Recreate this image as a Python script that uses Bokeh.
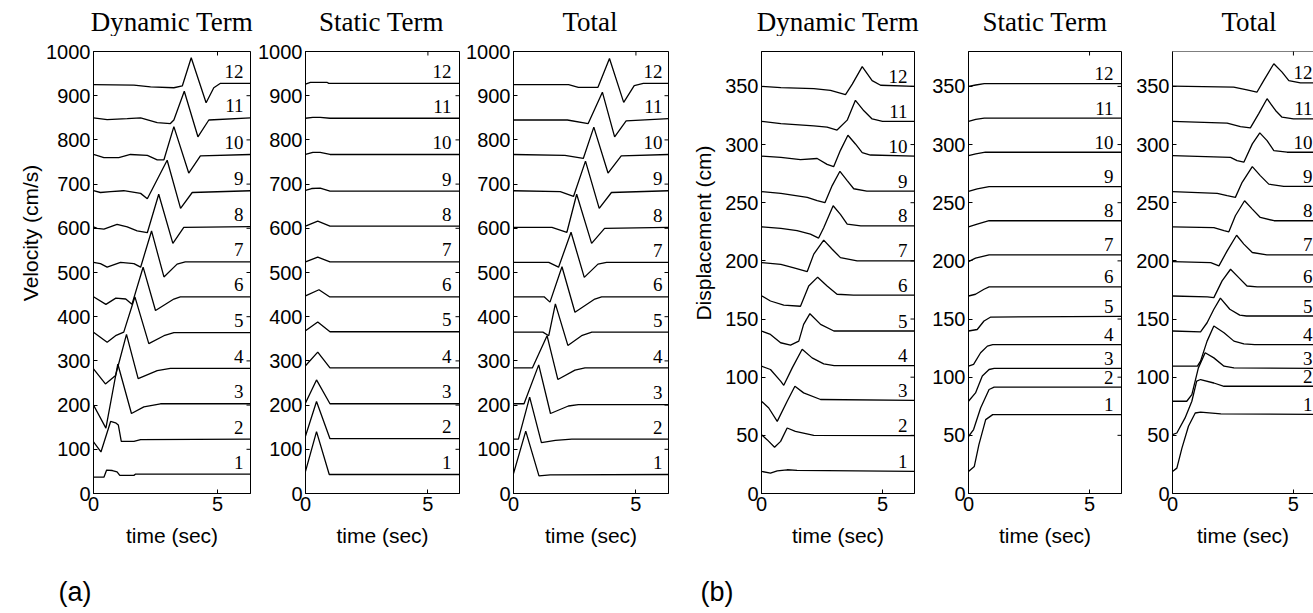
import math
from bokeh.plotting import figure
from bokeh.layouts import row, column
from bokeh.models import Range1d, LinearAxis, FixedTicker, Span
from bokeh.embed import file_html
from bokeh.resources import INLINE
from bokeh.core.properties import value

trace_labels = ["1", "2", "3", "4", "5", "6", "7", "8", "9", "10", "11", "12"]
x_ticks = [0, 5]
vel_ticks = [0, 100, 200, 300, 400, 500, 600, 700, 800, 900, 1000]
disp_ticks = [0, 50, 100, 150, 200, 250, 300, 350]
panel_titles = ["Dynamic Term", "Static Term", "Total", "Dynamic Term", "Static Term", "Total"]

# ---------------- (a) velocity, dynamic term ----------------
vel_dyn_t = [
    [0, 0.42, 0.53, 0.76, 0.95, 1.06, 1.63, 1.7, 6.33],
    [0, 0.3, 0.69, 0.89, 1.0, 1.12, 1.63, 1.9, 6.33],
    [0, 0.5, 0.98, 1.53, 2.03, 2.7, 6.33],
    [0, 0.48, 0.89, 1.33, 1.8, 2.57, 3.1, 6.33],
    [0, 0.55, 0.89, 1.22, 1.67, 2.23, 2.84, 3.24, 6.33],
    [0, 0.5, 0.9, 1.3, 1.55, 2.0, 2.5, 3.24, 3.5, 6.33],
    [0, 0.28, 0.55, 1.09, 1.63, 1.9, 2.34, 2.84, 3.37, 3.7, 6.33],
    [0, 0.15, 0.42, 0.95, 1.36, 1.76, 2.17, 2.63, 3.2, 3.64, 6.33],
    [0, 0.28, 0.69, 1.22, 1.9, 2.17, 2.97, 3.51, 3.98, 6.33],
    [0, 0.42, 1.02, 1.49, 2.17, 2.57, 2.84, 3.24, 3.84, 4.31, 6.33],
    [0, 0.55, 1.36, 1.9, 2.57, 3.1, 3.24, 3.66, 4.21, 4.65, 6.33],
    [0, 1.63, 2.3, 3.24, 3.58, 3.94, 4.54, 4.85, 5.12, 6.33],
]
vel_dyn_v = [
    [37, 37, 53, 52, 49, 41, 41, 44, 44],
    [117, 94, 163, 160, 155, 118, 118, 122, 123],
    [200, 148, 293, 181, 196, 203, 203],
    [282, 248, 267, 360, 260, 278, 283, 283],
    [365, 342, 357, 365, 445, 339, 357, 364, 364],
    [445, 428, 442, 440, 428, 512, 414, 440, 445, 445],
    [523, 520, 512, 523, 520, 512, 594, 490, 519, 524, 524],
    [603, 600, 598, 609, 603, 594, 590, 677, 566, 602, 604],
    [685, 681, 683, 685, 679, 667, 754, 645, 681, 685],
    [767, 760, 760, 767, 765, 755, 755, 830, 725, 764, 767],
    [850, 846, 848, 850, 839, 837, 845, 910, 807, 845, 850],
    [925, 924, 920, 918, 922, 986, 884, 918, 928, 928],
]

# ---------------- (a) velocity, static term ----------------
vel_sta_t = [
    [0, 0.45, 0.97, 6.33],
    [0, 0.45, 1.0, 6.33],
    [0, 0.45, 1.0, 6.33],
    [0, 0.5, 1.0, 6.33],
    [0, 0.5, 1.0, 6.33],
    [0, 0.55, 0.98, 6.33],
    [0, 0.5, 1.0, 6.33],
    [0, 0.5, 1.0, 6.33],
    [0, 0.25, 0.6, 1.0, 6.33],
    [0, 0.3, 0.6, 1.0, 6.33],
    [0, 0.3, 0.6, 1.0, 6.33],
    [0, 0.2, 0.89, 0.95, 6.33],
]
vel_sta_v = [
    [50, 140, 43, 43],
    [130, 208, 124, 124],
    [205, 257, 203, 203],
    [289, 320, 284, 284],
    [368, 388, 366, 366],
    [447, 461, 445, 445],
    [524, 535, 524, 524],
    [605, 616, 605, 605],
    [686, 690, 691, 684, 684],
    [767, 772, 772, 767, 767],
    [849, 851, 851, 849, 849],
    [926, 930, 930, 928, 928],
]

# ---------------- (a) velocity, total ----------------
vel_tot_t = [
    [0, 0.5, 1.04, 1.5, 6.33],
    [0, 0.2, 0.66, 1.14, 1.71, 2.38, 6.33],
    [0, 0.43, 1.03, 1.51, 2.24, 2.65, 6.33],
    [0, 0.77, 1.37, 1.81, 2.51, 2.92, 6.33],
    [0, 1.2, 1.44, 1.71, 2.22, 2.78, 3.2, 6.33],
    [0, 1.25, 1.49, 1.98, 2.51, 3.32, 3.6, 6.33],
    [0, 1.44, 1.84, 2.35, 2.89, 3.45, 3.8, 6.33],
    [0, 1.57, 2.18, 2.58, 3.19, 3.72, 6.33],
    [0, 1.91, 2.45, 2.94, 3.5, 4.0, 6.33],
    [0, 2.1, 2.85, 3.28, 3.86, 4.4, 6.33],
    [0, 2.2, 3.05, 3.63, 4.13, 4.6, 6.33],
    [0, 2.25, 2.65, 3.45, 3.92, 4.5, 4.93, 5.3, 6.33],
]
vel_tot_v = [
    [45, 141, 40, 42, 43],
    [123, 123, 218, 115, 120, 123, 123],
    [203, 203, 291, 181, 198, 201, 201],
    [284, 284, 357, 258, 279, 284, 284],
    [365, 365, 357, 429, 335, 357, 365, 365],
    [445, 445, 433, 513, 410, 440, 445, 445],
    [523, 523, 512, 591, 489, 519, 523, 523],
    [602, 602, 591, 677, 566, 600, 602],
    [685, 683, 672, 752, 645, 681, 685],
    [767, 765, 758, 829, 725, 764, 767],
    [845, 845, 837, 908, 807, 843, 848],
    [925, 925, 919, 919, 984, 885, 923, 928, 928],
]

# ---------------- (b) displacement, dynamic term ----------------
disp_dyn_t = [
    [0, 0.37, 0.65, 1.06, 1.47, 6.32],
    [0, 0.23, 0.54, 0.79, 1.06, 1.4, 2.16, 6.32],
    [0, 0.3, 0.65, 1.06, 1.38, 1.74, 2.44, 6.32],
    [0, 0.37, 0.79, 0.92, 1.27, 1.68, 2.09, 2.57, 3.0, 6.32],
    [0, 0.37, 0.79, 1.2, 1.54, 1.74, 2.0, 2.44, 2.99, 6.32],
    [0, 0.37, 0.92, 1.61, 1.95, 2.32, 2.71, 3.12, 3.8, 6.32],
    [0, 0.8, 1.34, 1.89, 2.16, 2.57, 2.92, 3.26, 3.95, 6.32],
    [0, 0.8, 1.47, 2.02, 2.36, 2.57, 2.96, 3.26, 3.54, 4.1, 6.32],
    [0, 0.8, 1.89, 2.3, 2.62, 2.92, 3.24, 3.54, 3.81, 4.35, 6.32],
    [0, 0.8, 1.61, 2.3, 2.71, 2.98, 3.26, 3.57, 3.88, 4.16, 4.5, 6.32],
    [0, 0.8, 2.16, 2.71, 3.12, 3.54, 3.88, 4.23, 4.57, 5.0, 6.32],
    [0, 0.8, 2.16, 2.85, 3.47, 3.75, 4.16, 4.57, 4.92, 6.32],
]
disp_dyn_v = [
    [19, 17.5, 19.5, 20.4, 19.8, 19],
    [50.6, 46.3, 39.7, 44.8, 56.3, 53.4, 50, 49.7],
    [79.3, 73.5, 62, 79.3, 92.2, 86.5, 80.8, 80],
    [109.5, 106.6, 96.6, 93, 108, 124, 116.6, 111.5, 110, 110],
    [139.7, 136.8, 129.6, 127.6, 131, 145.4, 154.6, 145.4, 139.7, 139.7],
    [170, 165.5, 162, 161, 178.4, 186, 178.4, 171.3, 170.5, 170.5],
    [198.5, 197, 194, 190.8, 205.8, 217.8, 210, 202.8, 200, 200],
    [229.3, 228, 226, 223, 219.6, 228.4, 247.4, 240, 231.6, 230, 230],
    [259.5, 258, 254.5, 251.7, 250, 264.7, 277, 269, 262, 260, 260],
    [290, 289, 287, 288, 283, 281, 295, 308, 300.5, 293, 291, 290],
    [320, 318, 316, 315, 312.5, 321, 338, 329, 322, 320, 320],
    [350, 349, 348, 346.5, 343, 352, 367, 355, 351, 350],
]

# ---------------- (b) displacement, static term ----------------
disp_sta_t = [
    [0, 0.24, 0.43, 0.71, 1.0, 6.32],
    [0, 0.21, 0.5, 0.85, 1.06, 6.32],
    [0, 0.29, 0.57, 0.85, 1.06, 6.32],
    [0, 0.21, 0.5, 0.78, 1.0, 6.32],
    [0, 0.36, 0.64, 0.92, 6.32],
    [0, 0.29, 0.64, 0.85, 6.32],
    [0, 0.29, 0.85, 6.32],
    [0, 0.36, 0.85, 6.32],
    [0, 0.36, 0.85, 6.32],
    [0, 0.3, 0.7, 6.32],
    [0, 0.3, 0.65, 6.32],
    [0, 0.3, 0.65, 6.32],
]
disp_sta_v = [
    [19, 23.3, 42, 63.5, 67.8, 67.8],
    [49, 55, 73.5, 89.4, 91.4, 91.4],
    [79.3, 86.5, 101, 106.6, 107.5, 107.5],
    [109.5, 111, 121, 126.7, 128, 128],
    [139.7, 141, 148.3, 151.7, 152.3],
    [169.8, 171.3, 175.6, 177.6, 177.6],
    [199.4, 202.3, 205.2, 205.2],
    [229.3, 231.6, 234.5, 234.5],
    [259.7, 261.8, 263.8, 263.8],
    [290.5, 292, 293.4, 293.4],
    [320, 321.7, 322.7, 322.7],
    [350, 351.2, 352.3, 352.3],
]

# ---------------- (b) displacement, total ----------------
disp_tot_t = [
    [0, 0.18, 0.39, 0.66, 0.94, 1.16, 2.0, 6.32],
    [0, 0.18, 0.52, 0.8, 1.0, 1.16, 1.71, 2.13, 6.32],
    [0, 0.59, 0.8, 1.07, 1.35, 1.71, 2.13, 2.54, 6.32],
    [0, 1.03, 1.16, 1.43, 1.71, 2.13, 2.54, 2.95, 3.4, 6.32],
    [0, 1.16, 1.43, 1.71, 1.98, 2.37, 2.78, 3.06, 6.32],
    [0, 1.44, 1.71, 2.05, 2.4, 2.74, 3.08, 3.5, 6.32],
    [0, 1.58, 1.92, 2.26, 2.65, 2.95, 3.3, 3.9, 6.32],
    [0, 1.71, 2.13, 2.33, 2.6, 2.98, 3.3, 3.63, 4.2, 6.32],
    [0, 1.85, 2.26, 2.6, 2.88, 3.3, 3.63, 3.98, 4.6, 6.32],
    [0, 2.4, 2.67, 2.95, 3.3, 3.61, 3.91, 4.19, 4.74, 6.32],
    [0, 2.26, 2.81, 3.22, 3.56, 3.91, 4.26, 4.53, 5.0, 6.32],
    [0, 2.53, 3.08, 3.49, 3.77, 4.19, 4.53, 4.81, 5.29, 6.32],
]
disp_tot_v = [
    [19, 21.8, 39, 57.8, 69.2, 70, 68.5, 68],
    [50.6, 52, 65, 79.3, 96.6, 98, 95, 92.2, 92.2],
    [79.3, 79.3, 85, 108, 121, 116.6, 109.5, 108, 107.5],
    [109.5, 109.5, 113.8, 131, 144, 138.2, 131, 128.7, 128, 128],
    [139.7, 139, 146.8, 158.4, 168, 158.4, 153.4, 152.6, 152.6],
    [169.8, 169, 168.4, 182.8, 192.8, 185.6, 178.4, 177.6, 177.6],
    [199.4, 198.5, 195.7, 208.6, 222, 214.4, 207.2, 205.2, 205.2],
    [229.3, 228.5, 226, 225, 238.8, 251.7, 244.5, 237.3, 234.5, 234.5],
    [259.5, 258, 256, 254.6, 267.5, 281, 273.3, 266, 264, 264],
    [290.5, 289, 286.2, 284.8, 300.6, 310, 303.4, 294.8, 293.4, 293.4],
    [320, 318.4, 315.5, 314.4, 326.4, 339.4, 329.3, 323.5, 322, 322],
    [350.3, 349.4, 347, 345, 355, 369.5, 362.3, 355, 353, 353],
]

SANS = "Liberation Sans"
SERIF = "Liberation Serif"
W = 1313
HEAD_H = 36
FOOT_H = 53
MAIN_H = 613 - HEAD_H - FOOT_H   # 524
TOP_B = 15                       # frame top at page y = 51
SIDE_W = 43
STRIP_BOTTOM = HEAD_H + MAIN_H   # page y of the bottom of the main row


def blank(width, height):
    f = figure(width=width, height=height, x_range=Range1d(0, width),
               y_range=Range1d(0, height), output_backend="svg",
               toolbar_location=None, x_axis_location=None, y_axis_location=None,
               min_border_left=0, min_border_right=0, min_border_top=0,
               min_border_bottom=0)
    f.outline_line_color = None
    f.grid.visible = False
    f.background_fill_color = "white"
    f.border_fill_color = "white"
    return f


def style_axis(ax):
    ax.axis_line_color = "black"
    ax.axis_line_width = 1
    ax.major_tick_line_color = "black"
    ax.major_tick_in = 4
    ax.major_tick_out = 0
    ax.minor_tick_line_color = None
    ax.major_label_text_font = SANS
    ax.major_label_text_font_size = "20px"
    ax.major_label_text_color = "black"
    ax.major_label_standoff = 3


def make_panel(ts, vs, x_end, y_end, y_ticks, bl, fw, br, fh,
               label_x, label_xoff, label_gap_px, boxed=True):
    bb = MAIN_H - TOP_B - fh
    p = figure(width=bl + fw + br, height=MAIN_H,
               x_range=Range1d(0, x_end), y_range=Range1d(0, y_end),
               output_backend="svg", toolbar_location=None,
               x_axis_location=None, y_axis_location=None,
               min_border_left=bl, min_border_right=br,
               min_border_top=TOP_B, min_border_bottom=bb)
    p.grid.visible = False
    p.background_fill_color = "white"
    p.border_fill_color = "white"
    if boxed:
        p.outline_line_color = "black"
        p.outline_line_width = 1
        p.outline_line_alpha = 1
    else:
        p.outline_line_color = None
        p.add_layout(Span(location=y_end, dimension="width",
                          line_color="black", line_width=1))

    xb = LinearAxis(ticker=FixedTicker(ticks=x_ticks), axis_label="time (sec)")
    style_axis(xb)
    xb.axis_label_text_font = SANS
    xb.axis_label_text_font_size = "21px"
    xb.axis_label_text_font_style = "normal"
    xb.axis_label_text_color = "black"
    xb.axis_label_standoff = 10
    p.add_layout(xb, "below")

    yl = LinearAxis(ticker=FixedTicker(ticks=y_ticks))
    style_axis(yl)
    p.add_layout(yl, "left")

    # inward tick marks on the top edge and (when boxed) the right edge
    p.scatter(x=x_ticks, y=[y_end] * len(x_ticks), marker="dash", angle=math.pi / 2,
              size=8, line_color="black", line_width=1)
    if boxed:
        p.scatter(x=[x_end] * len(y_ticks), y=y_ticks, marker="dash",
                  size=8, line_color="black", line_width=1)

    p.multi_line(xs=ts, ys=vs, line_color="black", line_width=1.3)

    gap = label_gap_px * y_end / fh
    p.text(x=[label_x] * len(vs), y=[v[-1] + gap for v in vs], text=trace_labels,
           text_font=value(SERIF), text_font_size="19px", text_color="black",
           text_align="right", text_baseline="middle",
           x_offset=label_xoff)
    return p


FH_A = 446
FH_B = 442
a1 = make_panel(vel_dyn_t, vel_dyn_v, 6.33, 1000, vel_ticks, 50, 157, 5, FH_A, 6.33, -7, 12)
a2 = make_panel(vel_sta_t, vel_sta_v, 6.29, 1000, vel_ticks, 48, 156, 4, FH_A, 6.29, -8, 12)
a3 = make_panel(vel_tot_t, vel_tot_v, 6.33, 1000, vel_ticks, 48, 157, 7, FH_A, 6.33, -6, 12)
b1 = make_panel(disp_dyn_t, disp_dyn_v, 6.32, 380, disp_ticks, 43, 153, 4, FH_B, 6.32, -7, 10)
b2 = make_panel(disp_sta_t, disp_sta_v, 6.32, 380, disp_ticks, 50, 153, 4, FH_B, 6.32, -8, 10)
b3 = make_panel(disp_tot_t, disp_tot_v, 5.83, 380, disp_ticks, 47, 141, 0, FH_B, 5.83, -1, 10,
                boxed=False)

# side strips holding the rotated y-axis titles (anchored at the start of the text)
vel_side = blank(SIDE_W, MAIN_H)
vel_side.text(x=[30], y=[STRIP_BOTTOM - 332], text=["Velocity (cm/s)"],
              angle=math.pi / 2,
              text_font=value(SANS), text_font_size="21px", text_color="black",
              text_align="left", text_baseline="middle")
disp_side = blank(SIDE_W, MAIN_H)
disp_side.text(x=[28], y=[STRIP_BOTTOM - 355], text=["Displacement (cm)"], angle=math.pi / 2,
               text_font=value(SANS), text_font_size="21px", text_color="black",
               text_align="left", text_baseline="middle")

# panel title strip: centres of each frame (page x)
frame_left = [93, 303, 511, 761, 968, 1172]
frame_w = [157, 156, 157, 153, 153, 153]
head = blank(W, HEAD_H)
head.text(x=[l + w / 2 for l, w in zip(frame_left, frame_w)], y=[HEAD_H - 21] * 6,
          text=panel_titles,
          text_font=value(SERIF), text_font_size="27px", text_color="black",
          text_align="center", text_baseline="middle")

foot = blank(W, FOOT_H)
foot.text(x=[58, 700], y=[22, 22], text=["(a)", "(b)"],
          text_font=value(SANS), text_font_size="27px", text_color="black",
          text_align="left", text_baseline="middle")

layout = column(head, row(vel_side, a1, a2, a3, disp_side, b1, b2, b3, spacing=0), foot,
                spacing=0)
open("out.html", "w").write(file_html(layout, INLINE))
